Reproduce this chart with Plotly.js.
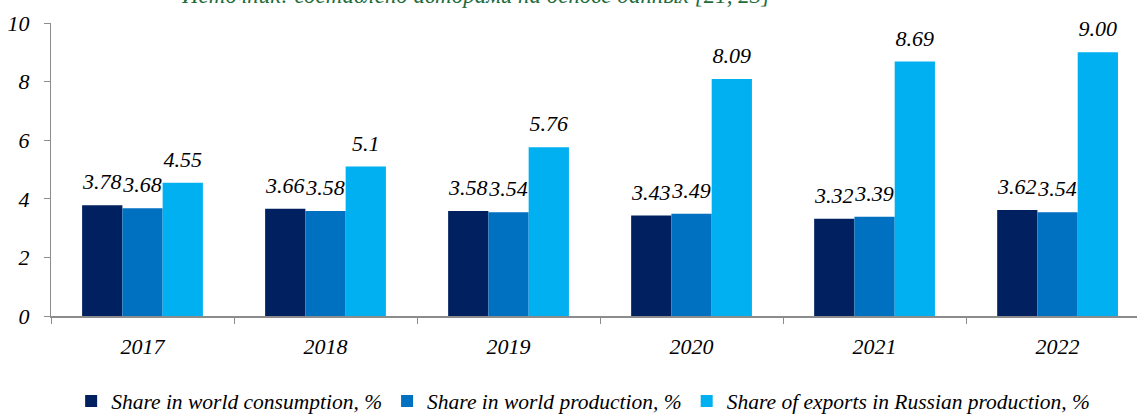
<!DOCTYPE html>
<html>
<head>
<meta charset="utf-8">
<script src="https://cdn.plot.ly/plotly-3.0.1.min.js"></script>
<style>html,body{margin:0;padding:0;background:#fff;}#chart{width:1137px;height:414px;}</style>
</head>
<body>
<div id="chart"></div>
<script>
var years = ['2017', '2018', '2019', '2020', '2021', '2022'];
var seriesNames = ['Share in world consumption, %', 'Share in world production, %', 'Share of exports in Russian production, %'];
var consumption = [3.78, 3.66, 3.58, 3.43, 3.32, 3.62];
var production = [3.68, 3.58, 3.54, 3.49, 3.39, 3.54];
var exportsShare = [4.55, 5.1, 5.76, 8.09, 8.69, 9.00];
var consumptionLabels = ['3.78', '3.66', '3.58', '3.43', '3.32', '3.62'];
var productionLabels = ['3.68', '3.58', '3.54', '3.49', '3.39', '3.54'];
var exportsLabels = ['4.55', '5.1', '5.76', '8.09', '8.69', '9.00'];
var colors = ['#002060', '#0070C0', '#00B0F0'];
var sourceNote = 'Источник: составлено авторами на основе данных [21, 23]';

var fontFam = 'Liberation Serif';
function mkBar(name, y, color) {
  return {
    type: 'bar', name: name, x: years, y: y,
    marker: {color: color, line: {width: 0}},
    hoverinfo: 'skip'
  };
}
function mkLabel(name, y, labels) {
  return {
    type: 'scatter', mode: 'markers+text', name: name + ' labels', x: years, y: y, text: labels,
    textposition: 'top center', cliponaxis: false, showlegend: false,
    marker: {size: 15, color: 'rgba(0,0,0,0)'},
    textfont: {family: fontFam, size: 22, color: '#000', style: 'italic'},
    hoverinfo: 'skip'
  };
}
var data = [
  mkBar(seriesNames[0], consumption, colors[0]),
  mkBar(seriesNames[1], production, colors[1]),
  mkBar(seriesNames[2], exportsShare, colors[2]),
  mkLabel(seriesNames[0], consumption, consumptionLabels),
  mkLabel(seriesNames[1], production, productionLabels),
  mkLabel(seriesNames[2], exportsShare, exportsLabels)
];
var layout = {
  width: 1137, height: 414,
  margin: {l: 51, r: 0, t: 23, b: 98, pad: 0, autoexpand: false},
  paper_bgcolor: '#fff', plot_bgcolor: '#fff',
  barmode: 'group', bargap: 0.34, bargroupgap: 0,
  scattermode: 'group', scattergap: 0.34,
  font: {family: fontFam, color: '#000'},
  xaxis: {
    type: 'category', range: [-0.5, 5.434], automargin: false,
    showline: true, linecolor: '#8c8c8c', linewidth: 2,
    ticks: 'outside', tickson: 'boundaries', ticklen: 6, tickcolor: '#8c8c8c', tickwidth: 1,
    ticklabelstandoff: 10,
    tickfont: {family: fontFam, size: 22, color: '#000', style: 'italic'},
    showgrid: false, zeroline: false, fixedrange: true
  },
  yaxis: {
    range: [0, 10], dtick: 2, tick0: 0, automargin: false,
    showline: true, linecolor: '#8c8c8c', linewidth: 1,
    ticks: 'outside', ticklen: 6, tickcolor: '#8c8c8c',
    ticklabelstandoff: 10,
    tickfont: {family: fontFam, size: 22, color: '#000', style: 'italic'},
    showgrid: false, zeroline: false, fixedrange: true
  },
  showlegend: true,
  legend: {
    orientation: 'h', x: 0.49, xanchor: 'center', y: -0.29, yanchor: 'middle',
    font: {family: fontFam, size: 21.5, color: '#000', style: 'italic'},
    itemwidth: 30, tracegroupgap: 0, traceorder: 'normal'
  },
  annotations: [{
    text: sourceNote, xref: 'paper', yref: 'paper', x: 0.391, y: 1.095,
    xanchor: 'center', yanchor: 'middle', showarrow: false,
    font: {family: fontFam, size: 23, color: '#1e6b3c', style: 'italic'}
  }]
};
Plotly.newPlot('chart', data, layout, {staticPlot: true, displayModeBar: false});
</script>
</body>
</html>
